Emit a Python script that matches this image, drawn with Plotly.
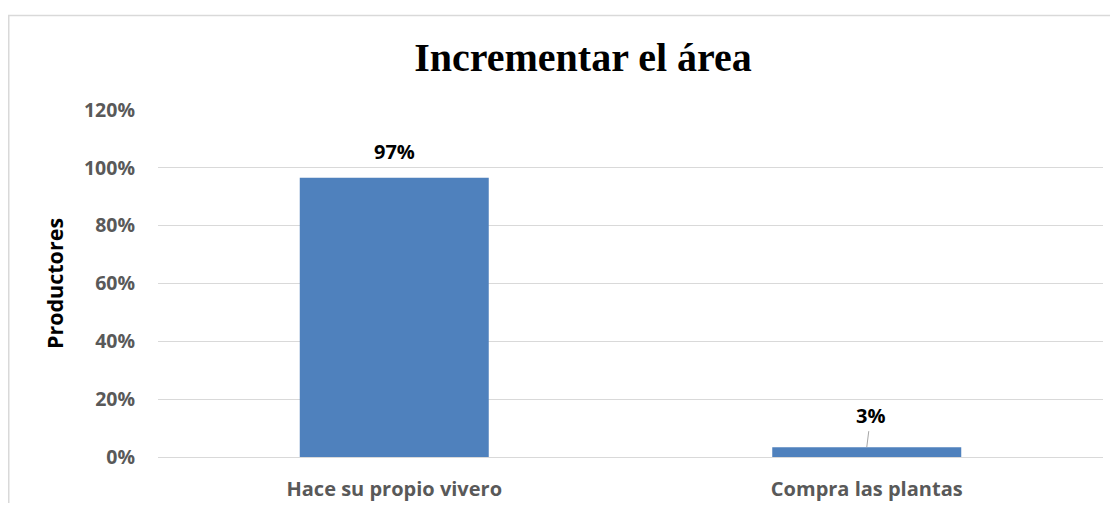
import plotly.graph_objects as go

categories = ["Hace su propio vivero", "Compra las plantas"]
values = [0.966, 0.034]
label_texts = ["97%", "3%"]
tick_vals = [0, 0.2, 0.4, 0.6, 0.8, 1.0, 1.2]
tick_text = ["0%", "20%", "40%", "60%", "80%", "100%", "120%"]
title_text = "Incrementar el área"
y_title = "Productores"

# page body has an 8px margin, so the figure is drawn 8px right/down;
# size it so it fits inside the window without scrollbars
W, H = 1102, 495
L, R, T, B = 150, 7, 102, 46
pw, ph = W - L - R, H - T - B

lab_font = dict(family="Open Sans", size=20, color="#000000", weight="bold")

fig = go.Figure()
fig.add_trace(go.Bar(x=categories, y=values, marker_color="#4F81BD",
                     marker_line_width=0, width=0.4, hoverinfo="skip"))

# data labels
fig.add_annotation(x=categories[0], y=values[0], text=label_texts[0], showarrow=False,
                   yanchor="middle", yshift=26, font=lab_font)
fig.add_annotation(x=categories[1], y=values[1], text=label_texts[1], showarrow=True,
                   ax=4, ay=-32, arrowhead=0, arrowwidth=1, arrowcolor="#A6A6A6",
                   startstandoff=1, font=lab_font)

# chart border (left & top visible)
fig.add_shape(type="rect", xref="paper", yref="paper",
              x0=(0.75 - L) / pw, x1=(W + 20 - L) / pw,
              y0=(-B - 20) / ph, y1=(H - 7.5 - B) / ph,
              line=dict(color="#D9D9D9", width=1.5), fillcolor="rgba(0,0,0,0)", layer="below")

fig.update_layout(
    width=W, height=H,
    margin=dict(l=L, r=R, t=T, b=B, autoexpand=False),
    paper_bgcolor="white", plot_bgcolor="white",
    showlegend=False,
    title=dict(text=title_text, x=575 / W, xanchor="center", y=1 - 49 / H, yanchor="middle",
               font=dict(family="Liberation Serif", size=40, color="#000000", weight="bold")),
    xaxis=dict(showgrid=False, showline=True, linecolor="#D9D9D9", linewidth=1, automargin=False,
               ticks="", tickfont=dict(family="Open Sans", size=20, color="#595959", weight="bold"),
               ticklabelstandoff=14),
    yaxis=dict(range=[0, 1.2], tickvals=tick_vals, ticktext=tick_text, automargin=False,
               showgrid=True, gridcolor="#D9D9D9", gridwidth=1, zeroline=False,
               ticks="", tickfont=dict(family="Open Sans", size=19.5, color="#595959", weight="bold"),
               ticklabelstandoff=22,
               title=dict(text=y_title, standoff=14,
                          font=dict(family="Open Sans", size=21.5, color="#000000", weight="bold"))),
)

fig.write_html("out.html")
